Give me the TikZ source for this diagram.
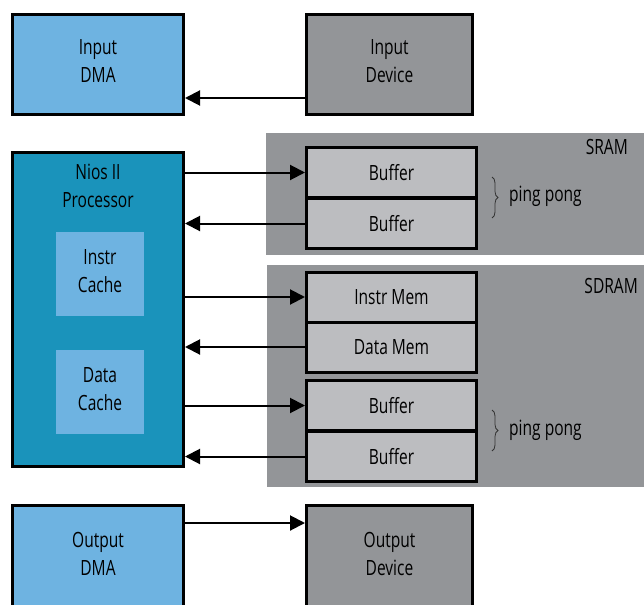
\documentclass[tikz,border=0pt]{standalone}
\usepackage{fontspec}
\setmainfont[FakeStretch=0.74]{Open Sans}
\usetikzlibrary{arrows.meta,decorations.pathreplacing}
\definecolor{dmablue}{HTML}{6EB3E1}
\definecolor{niosteal}{HTML}{1A93BB}
\definecolor{devgray}{HTML}{939598}
\definecolor{bufgray}{HTML}{BCBDC0}
\definecolor{regiongray}{HTML}{939598}
\tikzset{
  fnt/.style={font=\fontsize{21}{28}\selectfont},
  box/.style={draw=black,line width=3pt,rectangle,inner sep=0pt,align=center,fnt},
  membox/.style={box,fill=bufgray,minimum width=170pt,minimum height=50pt},
  cachebox/.style={rectangle,fill=dmablue,minimum width=88pt,minimum height=84pt,
    inner sep=0pt,align=center,fnt},
  txt/.style={align=center,inner sep=0pt,fnt},
  inner/.style={txt,yshift=3pt},
  arr/.style={line width=2pt,-{Triangle[length=15pt,width=15pt]}},
  brc/.style={decorate,decoration={brace,amplitude=6pt},line width=0.8pt,draw=black!80}
}
\begin{document}
\begin{tikzpicture}[x=1pt,y=-1pt]
\useasboundingbox (0,0) rectangle (644,604);
\clip (0,0) rectangle (644,604);
% regions
\fill[regiongray] (266,133) rectangle (644,255);
\fill[regiongray] (267,265) rectangle (644,487);
\node[txt,anchor=east] (sram) at (628,147) {SRAM};
\node[txt,anchor=east] (sdram) at (638,286) {SDRAM};
% top row
\node[box,fill=dmablue,minimum width=171pt,minimum height=100pt,
  label={[inner]center:Input\\DMA}] (idma) at (98,64.5) {};
\node[box,fill=devgray,minimum width=166pt,minimum height=100pt,
  label={[inner]center:Input\\Device}] (idev) at (389.5,64.5) {};
% processor
\node[box,fill=niosteal,minimum width=171pt,minimum height=314pt] (nios) at (98,309.5) {};
\node[txt] (niostxt) at (98,186) {Nios II\\Processor};
\node[cachebox,label={[inner]center:Instr\\Cache}] (icache) at (100,274) {};
\node[cachebox,label={[inner]center:Data\\Cache}] (dcache) at (100,392) {};
% SRAM buffers
\node[membox] (sbuf1) at (391.5,172.5) {Buffer};
\node[membox] (sbuf2) at (391.5,223.5) {Buffer};
% SDRAM
\node[membox] (imem) at (391.5,297) {Instr Mem};
\node[membox] (dmem) at (391.5,347) {Data Mem};
\node[membox] (dbuf1) at (391.5,405.5) {Buffer};
\node[membox] (dbuf2) at (391.5,456.5) {Buffer};
% braces
\draw[brc] (492,177) -- (492,218);
\node[txt,anchor=west] (pp1) at (509,196) {ping pong};
\draw[brc] (492,410) -- (492,451);
\node[txt,anchor=west] (pp2) at (509,430) {ping pong};
% bottom row
\node[box,fill=dmablue,minimum width=171pt,minimum height=104pt,
  label={[inner]center:Output\\DMA}] (odma) at (98,557) {};
\node[box,fill=devgray,minimum width=166pt,minimum height=104pt,
  label={[inner]center:Output\\Device}] (odev) at (389.5,557) {};
% arrows
\draw[arr] (idev.west |- 0,98) -- (idma.east |- 0,98);
\draw[arr] (nios.east |- sbuf1.west) -- (sbuf1.west);
\draw[arr] (sbuf2.west) -- (nios.east |- sbuf2.west);
\draw[arr] (nios.east |- imem.west) -- (imem.west);
\draw[arr] (dmem.west) -- (nios.east |- dmem.west);
\draw[arr] (nios.east |- dbuf1.west) -- (dbuf1.west);
\draw[arr] (dbuf2.west) -- (nios.east |- dbuf2.west);
\draw[arr] (odma.east |- 0,523) -- (odev.west |- 0,523);
\end{tikzpicture}
\end{document}
